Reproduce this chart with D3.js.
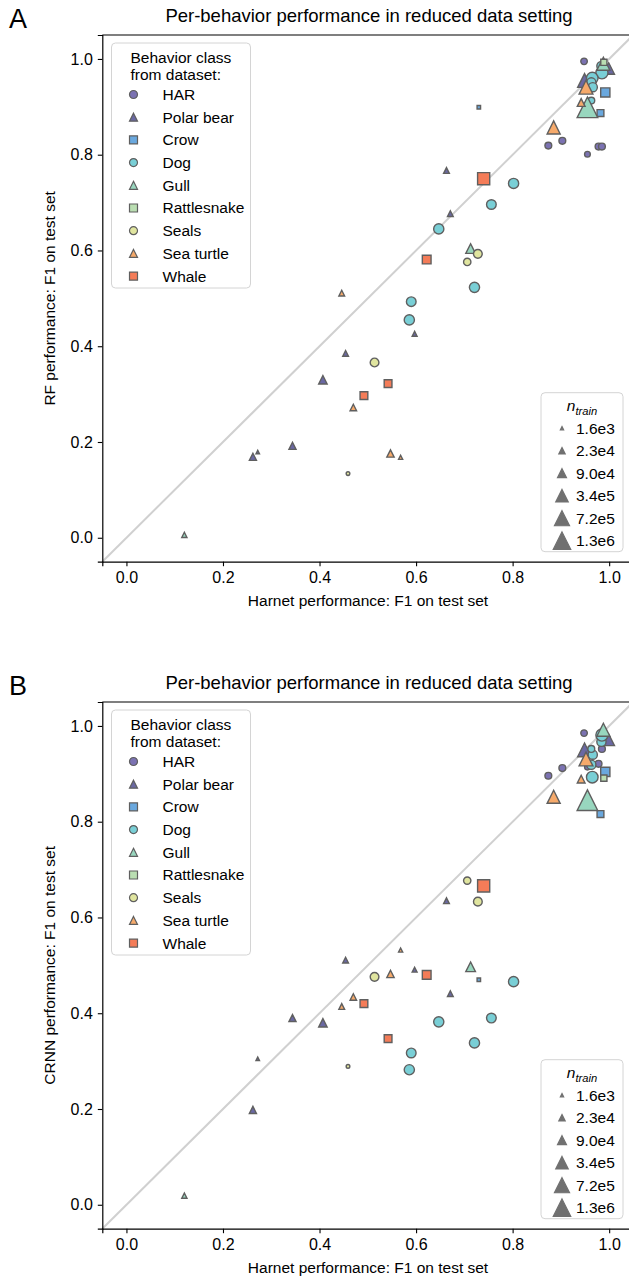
<!DOCTYPE html>
<html>
<head>
<meta charset="utf-8">
<script src="https://cdn.jsdelivr.net/npm/d3@7"></script>
<style>
  html, body { margin: 0; padding: 0; background: #fff; }
  svg { display: block; font-family: "Liberation Sans", Arial, Helvetica, sans-serif; }
</style>
</head>
<body>
<svg id="chart" width="629" height="1280"></svg>
<script>
// Behavior classes, in plotting order
const classes = ["HAR", "Polar bear", "Crow", "Dog", "Gull", "Rattlesnake", "Seals", "Sea turtle", "Whale"];
const classShapes = ["circle", "triangle", "square", "circle", "triangle", "square", "circle", "triangle", "square"];
const classColors = ["#7b72b2", "#6a68a3", "#6aa8de", "#79cfd6", "#98d6be", "#badeb2", "#e0e59f", "#f6aa6b", "#f47c58"];

// One entry per behavior: dataset, Harnet F1, RF F1, CRNN F1, training samples
const pointClass = [
  "HAR", "HAR", "HAR", "HAR", "HAR", "HAR",
  "Polar bear", "Polar bear", "Polar bear", "Polar bear", "Polar bear", "Polar bear", "Polar bear", "Polar bear", "Polar bear", "Polar bear",
  "Crow", "Crow", "Crow",
  "Dog", "Dog", "Dog", "Dog", "Dog", "Dog", "Dog", "Dog", "Dog", "Dog", "Dog", "Dog",
  "Gull", "Gull", "Gull", "Gull",
  "Rattlesnake",
  "Seals", "Seals", "Seals", "Seals",
  "Sea turtle", "Sea turtle", "Sea turtle", "Sea turtle", "Sea turtle", "Sea turtle", "Sea turtle",
  "Whale", "Whale", "Whale", "Whale"
];
const harnetF1 = [
  0.948, 0.874, 0.903, 0.955, 0.978, 0.985,
  0.999, 0.949, 0.663, 0.671, 0.597, 0.454, 0.407, 0.344, 0.262, 0.272,
  0.992, 0.982, 0.730,
  0.984, 0.985, 0.965, 0.963, 0.966, 0.963, 0.802, 0.756, 0.647, 0.721, 0.590, 0.586,
  0.988, 0.955, 0.713, 0.120,
  0.989,
  0.728, 0.706, 0.514, 0.459,
  0.952, 0.942, 0.885, 0.446, 0.470, 0.547, 0.568,
  0.740, 0.622, 0.542, 0.492
];
const rfF1 = [
  0.995, 0.819, 0.829, 0.801, 0.817, 0.817,
  0.980, 0.955, 0.767, 0.677, 0.426, 0.385, 0.330, 0.192, 0.169, 0.179,
  0.930, 0.887, 0.899,
  0.985, 0.971, 0.960, 0.951, 0.941, 0.913, 0.740, 0.696, 0.645, 0.523, 0.493, 0.455,
  0.990, 0.899, 0.604, 0.006,
  0.993,
  0.593, 0.576, 0.366, 0.134,
  0.941, 0.909, 0.857, 0.511, 0.272, 0.176, 0.168,
  0.750, 0.581, 0.322, 0.297
];
const crnnF1 = [
  0.985, 0.896, 0.912, 0.914, 0.921, 0.952,
  0.971, 0.950, 0.635, 0.441, 0.491, 0.511, 0.380, 0.390, 0.198, 0.305,
  0.904, 0.816, 0.470,
  0.967, 0.981, 0.893, 0.919, 0.940, 0.952, 0.466, 0.390, 0.382, 0.338, 0.317, 0.282,
  0.992, 0.845, 0.497, 0.019,
  0.891,
  0.633, 0.677, 0.476, 0.289,
  0.931, 0.889, 0.852, 0.414, 0.434, 0.482, 0.532,
  0.666, 0.480, 0.347, 0.420
];
const nTrain = [
  2.5e4, 3e4, 3e4, 1.5e4, 3e4, 3e4,
  2.5e5, 5e5, 1.5e4, 1.5e4, 8e3, 1.5e4, 7e4, 3.5e4, 3.5e4, 2e3,
  1e5, 3e4, 2e3,
  1e5, 3e5, 2.5e5, 1e5, 1e5, 3e4, 1.5e5, 1.2e5, 1.5e5, 1.5e5, 1.2e5, 1.5e5,
  4e5, 2.5e6, 1.2e5, 1e4,
  2e4,
  8e4, 4e4, 8e4, 2.5e3,
  5e5, 5e4, 4e5, 1.5e4, 2.5e4, 4e4, 4e3,
  3e5, 8e4, 5e4, 5e4
];

// Size legend entries
const sizeLegendValues = [1.6e3, 2.3e4, 9.0e4, 3.4e5, 7.2e5, 1.3e6];
const sizeLegendLabels = ["1.6e3", "2.3e4", "9.0e4", "3.4e5", "7.2e5", "1.3e6"];

// Axis ticks
const tickValues = [0.0, 0.2, 0.4, 0.6, 0.8, 1.0];

const panels = [
  { letter: "A", yKey: "rf", yLabel: "RF performance: F1 on test set", top: 35 },
  { letter: "B", yKey: "crnn", yLabel: "CRNN performance: F1 on test set", top: 702 }
];

const points = pointClass.map((c, i) => ({
  cls: c, x: harnetF1[i], rf: rfF1[i], crnn: crnnF1[i], n: nTrain[i]
}));

const svg = d3.select("#chart");
const FONT = 15.5;

// Marker types: every shape fits a d x d box, with size = d*d
const shapeTypes = {
  circle: { draw(ctx, size) { const r = Math.sqrt(size) / 2; ctx.moveTo(r, 0); ctx.arc(0, 0, r, 0, 2 * Math.PI); } },
  square: { draw(ctx, size) { const h = Math.sqrt(size) / 2; ctx.rect(-h, -h, 2 * h, 2 * h); } },
  triangle: { draw(ctx, size) { const h = Math.sqrt(size) / 2; ctx.moveTo(0, -h); ctx.lineTo(h, h); ctx.lineTo(-h, h); ctx.closePath(); } }
};
const shapeOf = d3.scaleOrdinal(classes, classShapes);
const colorOf = d3.scaleOrdinal(classes, classColors);
const diam = d3.scalePow().exponent(0.25).domain([0, 1.3e6]).range([0, 17.5]);

const x = d3.scaleLinear([-0.05, 1.05], [102.3, 633.3]);
const plotH = 526.7;

panels.forEach(p => {
  const y = d3.scaleLinear([-0.05, 1.05], [p.top + plotH, p.top]);
  const g = svg.append("g");

  // panel letter and title
  g.append("text").attr("x", 9).attr("y", p.top - 7).attr("font-size", 27).text(p.letter);
  g.append("text").attr("x", 369).attr("y", p.top - 13).attr("text-anchor", "middle")
    .attr("font-size", 18.5).text("Per-behavior performance in reduced data setting");

  // identity line
  g.append("line")
    .attr("x1", x(-0.05)).attr("y1", y(-0.05)).attr("x2", x(1.05)).attr("y2", y(1.05))
    .attr("stroke", "#d0d0d0").attr("stroke-width", 2);

  // axes
  const xa = g.append("g").attr("transform", `translate(0,${p.top + plotH})`)
    .call(d3.axisBottom(x).tickValues(tickValues).tickFormat(d3.format(".1f")).tickSizeOuter(0).tickSize(4.5).tickPadding(5));
  const ya = g.append("g").attr("transform", `translate(${x(-0.05)},0)`)
    .call(d3.axisLeft(y).tickValues(tickValues).tickFormat(d3.format(".1f")).tickSizeOuter(0).tickSize(4.5).tickPadding(5));
  [xa, ya].forEach(a => {
    a.select(".domain").attr("stroke", "#000").attr("stroke-width", 1.2);
    a.selectAll(".tick line").attr("stroke", "#000").attr("stroke-width", 1.1);
    a.selectAll(".tick text").attr("font-size", 16).attr("fill", "#000")
      .attr("font-family", "Liberation Sans, Arial, sans-serif");
  });
  // top and right spines
  g.append("line").attr("x1", x(-0.05)).attr("x2", x(1.05)).attr("y1", p.top).attr("y2", p.top)
    .attr("stroke", "#000").attr("stroke-width", 1.2);
  g.append("line").attr("x1", x(1.05)).attr("x2", x(1.05)).attr("y1", p.top).attr("y2", p.top + plotH)
    .attr("stroke", "#000").attr("stroke-width", 1.2);

  // axis labels
  g.append("text").attr("x", 368).attr("y", p.top + plotH + 44).attr("text-anchor", "middle")
    .attr("font-size", FONT).text("Harnet performance: F1 on test set");
  g.append("text").attr("transform", `translate(55,${p.top + plotH / 2}) rotate(-90)`)
    .attr("text-anchor", "middle").attr("font-size", FONT).text(p.yLabel);

  // points
  g.append("g").selectAll("path").data(points).join("path")
    .attr("transform", d => `translate(${x(d.x)},${y(d[p.yKey])})`)
    .attr("d", d => d3.symbol(shapeTypes[shapeOf(d.cls)], diam(d.n) ** 2)())
    .attr("fill", d => colorOf(d.cls))
    .attr("stroke", "#5f5f5f").attr("stroke-width", 1.4);

  // class legend
  const lg = g.append("g").attr("transform", `translate(111.5,${p.top + 8})`);
  lg.append("rect").attr("x", 0).attr("y", 0).attr("width", 139).attr("height", 245)
    .attr("rx", 4).attr("fill", "#fff").attr("fill-opacity", 0.85)
    .attr("stroke", "#d4d4d4").attr("stroke-width", 1);
  lg.append("text").attr("x", 19).attr("y", 20).attr("font-size", FONT).text("Behavior class");
  lg.append("text").attr("x", 19).attr("y", 37).attr("font-size", FONT).text("from dataset:");
  classes.forEach((c, i) => {
    const cy = 51.5 + i * 22.7;
    lg.append("path").attr("transform", `translate(22,${cy})`)
      .attr("d", d3.symbol(shapeTypes[shapeOf(c)], 64)())
      .attr("fill", colorOf(c)).attr("stroke", "#5f5f5f").attr("stroke-width", 1.2);
    lg.append("text").attr("x", 51).attr("y", cy).attr("dy", "0.35em").attr("font-size", FONT).text(c);
  });

  // sample-size legend
  const sg = g.append("g").attr("transform", `translate(541,${p.top + plotH - 169})`);
  sg.append("rect").attr("x", 0).attr("y", 0).attr("width", 82).attr("height", 159)
    .attr("rx", 4).attr("fill", "#fff").attr("fill-opacity", 0.85)
    .attr("stroke", "#d4d4d4").attr("stroke-width", 1);
  const st = sg.append("text").attr("x", 41).attr("y", 18).attr("text-anchor", "middle")
    .attr("font-size", FONT).attr("font-style", "italic");
  st.append("tspan").text("n");
  st.append("tspan").attr("font-size", FONT * 0.72).attr("dy", 4).text("train");
  sizeLegendValues.forEach((v, i) => {
    const cy = 35.5 + i * 22.5;
    sg.append("path").attr("transform", `translate(21,${cy})`)
      .attr("d", d3.symbol(shapeTypes.triangle, diam(v) ** 2)())
      .attr("fill", "#707070").attr("stroke", "#707070").attr("stroke-width", 1.2);
    sg.append("text").attr("x", 35).attr("y", cy).attr("dy", "0.35em").attr("font-size", FONT)
      .text(sizeLegendLabels[i]);
  });
});
</script>
</body>
</html>
